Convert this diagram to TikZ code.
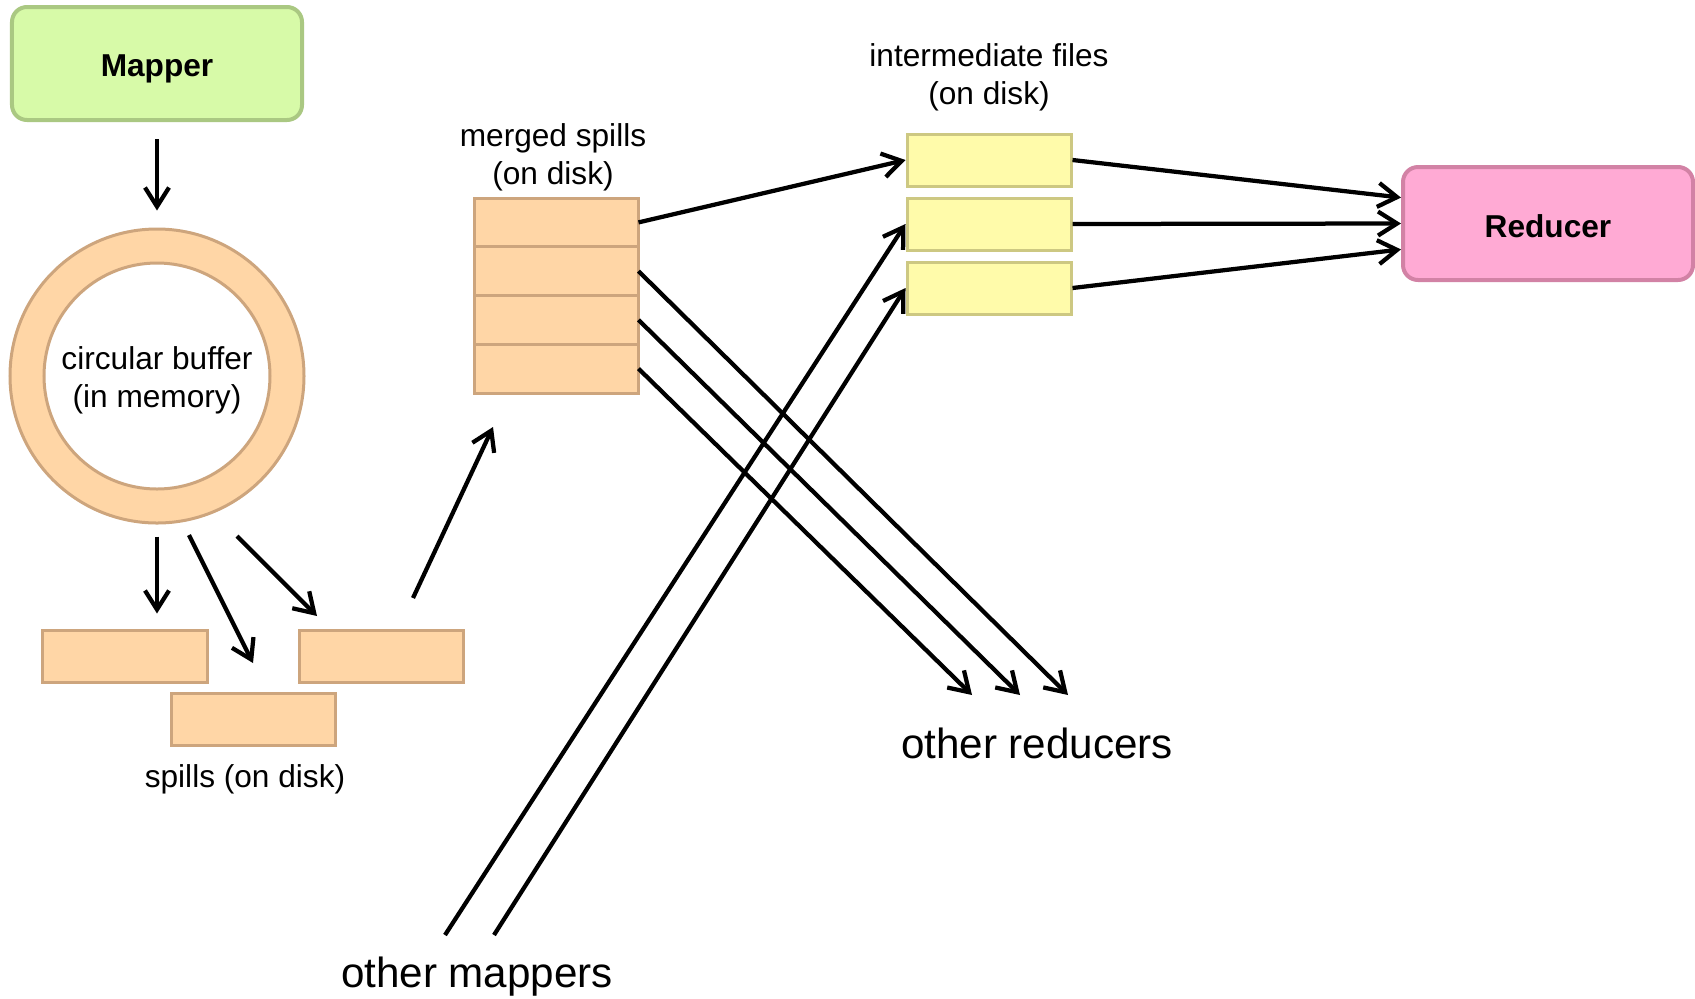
\documentclass[tikz,border=0pt]{standalone}
\usepackage{fontspec}
\setmainfont{Liberation Sans}
\usetikzlibrary{arrows.meta,positioning,calc}
\definecolor{MapGreen}{RGB}{215,250,168}
\definecolor{MapGreenLine}{RGB}{170,200,130}
\definecolor{SpillPeach}{RGB}{255,214,166}
\definecolor{SpillLine}{RGB}{205,165,125}
\definecolor{FileYellow}{RGB}{255,251,170}
\definecolor{FileLine}{RGB}{205,200,130}
\definecolor{RedPink}{RGB}{255,170,212}
\definecolor{RedPinkLine}{RGB}{210,130,165}

\begin{document}
\begin{tikzpicture}[x=0.2mm,y=-0.2mm,>={Straight Barb[length=3.8mm,width=4.8mm]},
    task/.style={rounded corners=3mm,line width=0.8mm,minimum width=58mm,
      minimum height=22.6mm,text depth=0pt,
      font=\fontsize{18}{21.6}\selectfont\bfseries},
    spill/.style={draw=SpillLine,fill=SpillPeach,line width=0.6mm,
      minimum width=32.8mm,minimum height=10.4mm},
    ifile/.style={draw=FileLine,fill=FileYellow,line width=0.6mm,
      minimum width=32.8mm,minimum height=10.4mm},
    mrow/.style={spill,outer sep=0pt,minimum height=9.75mm},
    flow/.style={->,line width=0.85mm},
    lbl/.style={font=\fontsize{18}{21.6}\selectfont,align=center},
    big/.style={font=\fontsize{24}{28}\selectfont}]
      \useasboundingbox (0,0) rectangle (1695,998);
      \node[task,draw=MapGreenLine,fill=MapGreen] (mapper) at (157,63.5) {};
      \node[task,draw=RedPinkLine,fill=RedPink] (reducer) at (1548,223.5) {};
      \node[lbl,font=\fontsize{18}{21.6}\selectfont\bfseries] (maptxt) at (157,69) {Mapper};
      \node[lbl,font=\fontsize{18}{21.6}\selectfont\bfseries] (redtxt) at (1548,226) {Reducer};
      \node[circle,draw=SpillLine,fill=SpillPeach,line width=0.6mm,
        minimum size=58.8mm] (ring) at (157,376) {};
      \node[circle,draw=SpillLine,fill=white,line width=0.6mm,
        minimum size=45.2mm] (buffer) at (ring) {};
      \node[lbl] (buftxt) at (157,380) {circular buffer\\(in memory)};
      \node[spill] (spillA) at (125,656) {};
      \node[spill] (spillB) at (253,719.5) {};
      \node[spill] (spillC) at (381,656) {};
      \node[lbl] (spilltxt) at (245,779) {spills (on disk)};
      \node[mrow] (mA) at (556.5,222.4) {};
      \node[mrow,below=0pt of mA] (mB) {};
      \node[mrow,below=0pt of mB] (mC) {};
      \node[mrow,below=0pt of mC] (mD) {};
      \node[lbl] (mtxt) at (553,157) {merged spills\\(on disk)};
      \node[ifile] (fA) at (989,160) {};
      \node[ifile] (fB) at (989,224) {};
      \node[ifile] (fC) at (989,288) {};
      \node[lbl] (ftxt) at (989,77) {intermediate files\\(on disk)};
      \node[big] (rtxt) at (1037,743) {other reducers};
      \node[big] (otxt) at (477,977) {other mappers};
      \coordinate (bufB) at (189,535);
      \coordinate (bufC) at (237,536);
      \coordinate (toB) at (253,663);
      \coordinate (toC) at (317,616);
      \coordinate (spillout) at (413,598);
      \coordinate (mergein) at (493,427);
      \coordinate (rA) at (1068,695);
      \coordinate (rB) at (1020,695);
      \coordinate (rC) at (972,695);
      \coordinate (oA) at (445,935);
      \coordinate (oB) at (494,935);
      \draw[flow,shorten <=3.4mm,shorten >=3.4mm] (mapper) -- (ring);
      \draw[flow,shorten <=2.4mm,shorten >=3mm] (ring.south) -- (ring.south |- spillA.north);
      \draw[flow] (bufB) -- (toB);
      \draw[flow] (bufC) -- (toC);
      \draw[flow] (spillout) -- (mergein);
      \draw[flow] (mA.east) -- (fA.west);
      \draw[flow] (mB.east) -- (rA);
      \draw[flow] (mC.east) -- (rB);
      \draw[flow] (mD.east) -- (rC);
      \draw[flow] (oA) -- (fB.west);
      \draw[flow] (oB) -- (fC.west);
      \draw[flow] (fA.east) -- (reducer.170);
      \draw[flow] (fB.east) -- (reducer.west);
      \draw[flow] (fC.east) -- (reducer.190);
    \end{tikzpicture}
\end{document}
